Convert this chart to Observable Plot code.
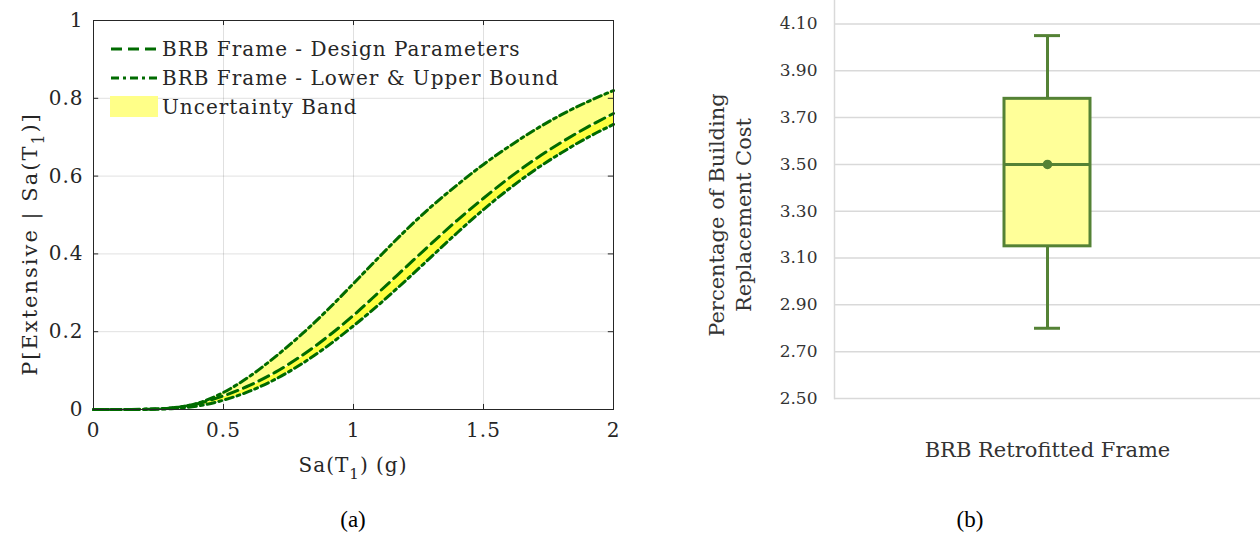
<!DOCTYPE html>
<html><head><meta charset="utf-8">
<script src="https://cdn.jsdelivr.net/npm/d3@7"></script>
<script src="https://cdn.jsdelivr.net/npm/@observablehq/plot@0.6"></script>
<style>
body{margin:0;background:#fff;}
#wrap{position:relative;width:1260px;height:535px;overflow:hidden;background:#fff;}
.abs{position:absolute;white-space:nowrap;}
.rot{transform:translate(-50%,-50%) rotate(-90deg);}
.ctr{transform:translate(-50%,-50%);}
.serifA{font-family:"DejaVu Serif",serif;font-size:20px;letter-spacing:1px;color:#262626;}
.ytA{font-size:21px;letter-spacing:2px;}
.serifB{font-family:"DejaVu Serif",serif;font-size:21px;color:#333;text-align:center;line-height:27px;}
.cap{font-family:"Liberation Serif","Times New Roman",serif;font-size:23px;color:#000;}
sub{font-size:0.75em;vertical-align:-0.45em;line-height:0;}
.leg{position:absolute;left:110px;top:34px;}
.legrow{display:flex;align-items:center;height:29px;}
.legrow svg{display:block;margin-right:4px;}
</style></head><body><div id="wrap"></div><script>
// ---- Panel (a): fragility curves ----
const sa       = [0, 0.1, 0.2, 0.3, 0.4, 0.5, 0.6, 0.7, 0.8, 0.9, 1.0, 1.1, 1.2, 1.3, 1.4, 1.5, 1.6, 1.7, 1.8, 1.9, 2.0];
const pLower   = [0, 0, 0.0003, 0.002, 0.009, 0.024, 0.047, 0.078, 0.117, 0.163, 0.215, 0.271, 0.331, 0.393, 0.455, 0.514, 0.568, 0.617, 0.660, 0.699, 0.733];
const pDesign  = [0, 0, 0.0005, 0.004, 0.015, 0.035, 0.062, 0.096, 0.138, 0.187, 0.242, 0.303, 0.365, 0.427, 0.487, 0.543, 0.596, 0.644, 0.687, 0.726, 0.761];
const pUpper   = [0, 0, 0.001, 0.004, 0.016, 0.044, 0.085, 0.136, 0.193, 0.256, 0.324, 0.393, 0.460, 0.522, 0.578, 0.630, 0.677, 0.720, 0.758, 0.791, 0.820];
const xTicksA  = [0, 0.5, 1, 1.5, 2];
const yTicksA  = [0, 0.2, 0.4, 0.6, 0.8, 1];
const legendLabels = ["BRB Frame - Design Parameters", "BRB Frame - Lower & Upper Bound", "Uncertainty Band"];

// ---- Panel (b): box plot ----
const boxCategory = ["BRB Retrofitted Frame"];
const boxMin    = [2.80];
const boxQ1     = [3.15];
const boxMedian = [3.50];
const boxQ3     = [3.78];
const boxMax    = [4.05];
const boxMean   = [3.50];
const yTicksB   = [2.5, 2.7, 2.9, 3.1, 3.3, 3.5, 3.7, 3.9, 4.1];

const green = "#006b00";
const bandLight = "#ffff88";
const bandStrong = "#ffff40";
const dashDesign = "11,6";
const dashBound = "8,4,3,4";

const wrap = document.getElementById("wrap");

const rows = sa.map((s, i) => ({sa: s, lo: pLower[i], de: pDesign[i], up: pUpper[i]}));
const ink = "#262626";
const fmtA = d => String(d);
const plotA = Plot.plot({
  width: 640, height: 490,
  marginLeft: 93, marginRight: 27, marginTop: 20, marginBottom: 81,
  x: {domain: [0, 2]},
  y: {domain: [0, 1]},
  style: {fontFamily: "DejaVu Serif", fontSize: "20px", color: ink, letterSpacing: "1px", background: "transparent"},
  marks: [
    Plot.gridX(xTicksA, {stroke: "#000", strokeOpacity: 0.12}),
    Plot.gridY(yTicksA, {stroke: "#000", strokeOpacity: 0.12}),
    Plot.areaY(rows, {x: "sa", y1: "lo", y2: "de", fill: bandStrong, curve: "monotone-x"}),
    Plot.areaY(rows, {x: "sa", y1: "de", y2: "up", fill: bandLight, curve: "monotone-x"}),
    Plot.lineY(rows, {x: "sa", y: "de", stroke: "#fff", strokeWidth: 1, curve: "monotone-x"}),
    Plot.lineY(rows, {x: "sa", y: "de", stroke: green, strokeWidth: 3, strokeDasharray: dashDesign, curve: "monotone-x"}),
    Plot.lineY(rows, {x: "sa", y: "lo", stroke: green, strokeWidth: 3, strokeDasharray: dashBound, curve: "monotone-x"}),
    Plot.lineY(rows, {x: "sa", y: "up", stroke: green, strokeWidth: 3, strokeDasharray: dashBound, curve: "monotone-x"}),
    Plot.frame({stroke: ink}),
    Plot.ruleX(xTicksA, {y1: 0, y2: 0.013, stroke: ink}),
    Plot.ruleX(xTicksA, {y1: 0.987, y2: 1, stroke: ink}),
    Plot.ruleY(yTicksA, {x1: 0, x2: 0.02, stroke: ink}),
    Plot.ruleY(yTicksA, {x1: 1.98, x2: 2, stroke: ink}),
    Plot.axisX(xTicksA, {tickSize: 0, tickPadding: 13, fontSize: 20, tickFormat: fmtA, label: null}),
    Plot.axisY(yTicksA, {tickSize: 0, tickPadding: 10, fontSize: 20, tickFormat: fmtA, label: null})
  ]
});
plotA.style.position = "absolute"; plotA.style.left = "0px"; plotA.style.top = "0px";
wrap.appendChild(plotA);

const boxRows = boxCategory.map((c, i) => ({cat: c, min: boxMin[i], q1: boxQ1[i], med: boxMedian[i], q3: boxQ3[i], max: boxMax[i], mean: boxMean[i]}));
const boxGreen = "#548235";
const plotB = Plot.plot({
  width: 580, height: 490,
  marginLeft: 154, marginRight: 0, marginTop: 0, marginBottom: 92,
  x: {domain: boxCategory, padding: 0},
  y: {domain: [2.5, 4.2]},
  style: {fontFamily: "DejaVu Serif", fontSize: "17px", color: "#333", background: "transparent"},
  marks: [
    Plot.gridY(yTicksB, {stroke: "#d9d9d9", strokeOpacity: 1, strokeWidth: 1.5}),
    Plot.frame({anchor: "left", stroke: "#d9d9d9", strokeWidth: 1.5}),
    Plot.ruleX(boxRows, {x: "cat", y1: "q3", y2: "max", stroke: boxGreen, strokeWidth: 3}),
    Plot.ruleX(boxRows, {x: "cat", y1: "min", y2: "q1", stroke: boxGreen, strokeWidth: 3}),
    Plot.tickY(boxRows, {x: "cat", y: "max", stroke: boxGreen, strokeWidth: 3, insetLeft: 200, insetRight: 200}),
    Plot.tickY(boxRows, {x: "cat", y: "min", stroke: boxGreen, strokeWidth: 3, insetLeft: 200, insetRight: 200}),
    Plot.barY(boxRows, {x: "cat", y1: "q1", y2: "q3", fill: "#ffff99", stroke: boxGreen, strokeWidth: 3, insetLeft: 170, insetRight: 170}),
    Plot.tickY(boxRows, {x: "cat", y: "med", stroke: boxGreen, strokeWidth: 3, insetLeft: 170, insetRight: 170}),
    Plot.dot(boxRows, {x: "cat", y: "mean", r: 4, fill: boxGreen, stroke: boxGreen}),
    Plot.axisY(yTicksB, {tickSize: 0, tickPadding: 17, fontSize: 17, tickFormat: d3.format(".2f"), label: null}),
    Plot.axisX({tickSize: 0, tickPadding: 44, fontSize: 21, label: null})
  ]
});
plotB.style.position = "absolute"; plotB.style.left = "680px"; plotB.style.top = "0px";
wrap.appendChild(plotB);

// ---- HTML titles, legend and captions ----
function addDiv(cls, html, left, top) {
  const d = document.createElement("div");
  d.className = "abs " + cls;
  d.innerHTML = html;
  d.style.left = left + "px"; d.style.top = top + "px";
  wrap.appendChild(d);
  return d;
}
addDiv("serifA ytA rot", "P[Extensive | Sa(T<sub>1</sub>)]", 30, 244);
addDiv("serifA ctr", "Sa(T<sub>1</sub>) (g)", 353, 465);
addDiv("serifB rot", "Percentage of Building<br>Replacement Cost", 731, 215);
addDiv("cap ctr", "(a)", 353, 520);
addDiv("cap ctr", "(b)", 970, 520);

const leg = document.createElement("div");
leg.className = "leg serifA";
const samples = [
  `<svg width="48" height="20"><line x1="1" x2="47" y1="10" y2="10" stroke="${green}" stroke-width="3" stroke-dasharray="${dashDesign}"/></svg>`,
  `<svg width="48" height="20"><line x1="1" x2="47" y1="10" y2="10" stroke="${green}" stroke-width="3" stroke-dasharray="${dashBound}"/></svg>`,
  `<svg width="48" height="21"><rect x="0" y="0" width="48" height="21" fill="${bandLight}"/></svg>`
];
leg.innerHTML = legendLabels.map((t, i) => `<div class="legrow">${samples[i]}<span>${t.replace("&", "&amp;")}</span></div>`).join("");
wrap.appendChild(leg);
</script></body></html>
